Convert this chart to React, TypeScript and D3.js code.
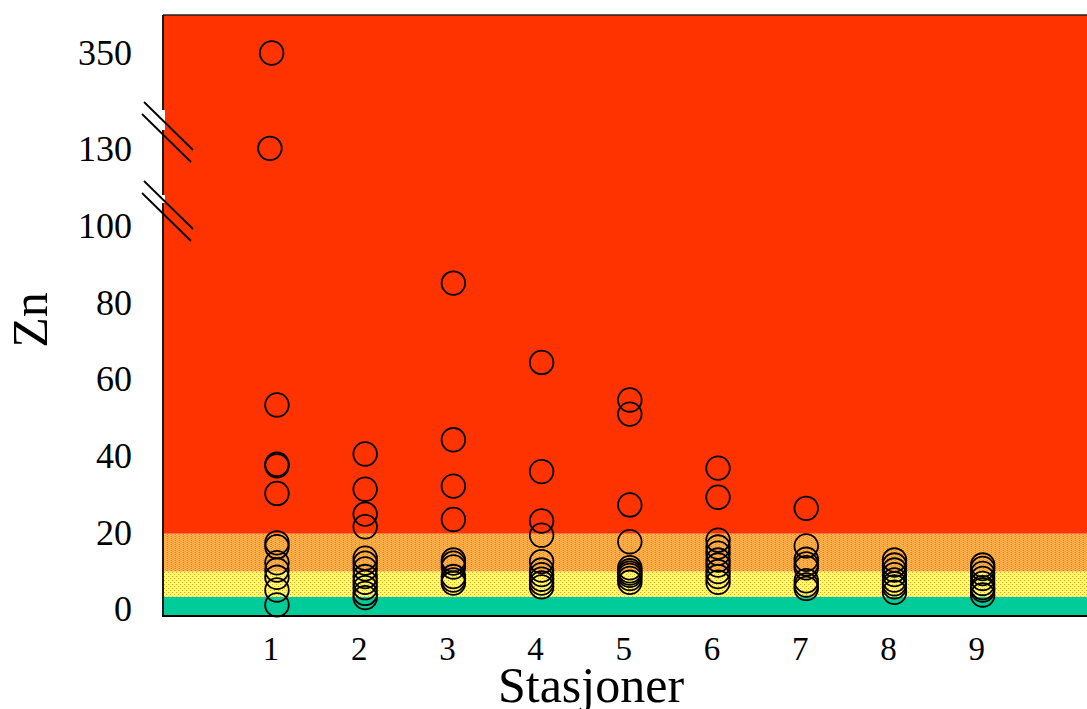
import React from "react";
import * as d3 from "d3";

// Zn concentrations per sampling station
const stations = [1, 2, 3, 4, 5, 6, 7, 8, 9];
const znStation1 = [350, 130, 53.3, 37.8, 37.4, 30.2, 17.3, 16.3, 12.1, 10.2, 8.3, 5.0, 1.1];
// horizontal placement of the station 1 samples (the two highest sit slightly left)
const xStation1 = [0.94, 0.92, 1, 1, 1, 1, 1, 1, 1, 1, 1, 1, 1];
const znStation2 = [40.5, 31.3, 24.8, 21.5, 13.3, 12.0, 10.5, 8.5, 7.0, 5.6, 4.1, 3.0];
const znStation3 = [85.1, 44.2, 32.1, 23.4, 12.8, 12.0, 11.0, 8.5, 7.6, 6.8];
const znStation4 = [64.4, 35.9, 23.0, 19.3, 12.4, 10.2, 9.0, 7.8, 6.8, 5.8];
const znStation5 = [54.6, 50.9, 27.2, 17.6, 10.8, 10.0, 9.4, 8.8, 8.0, 7.0];
const znStation6 = [36.8, 29.2, 18.0, 16.2, 14.6, 12.8, 11.5, 9.8, 8.5, 7.0];
const znStation7 = [26.3, 16.5, 13.0, 11.8, 10.8, 7.4, 6.3, 5.4];
const znStation8 = [12.8, 11.5, 10.2, 9.0, 7.6, 6.6, 5.8, 4.4];
const znStation9 = [11.5, 10.6, 9.3, 8.0, 6.7, 5.6, 5.0, 3.7];
const znByStation = [
  znStation1, znStation2, znStation3, znStation4, znStation5,
  znStation6, znStation7, znStation8, znStation9,
];

// y tick labels (axis is broken above 100 and above 130)
const yTicks = [0, 20, 40, 60, 80, 100, 130, 350];

// class limits for the coloured background bands
const bandLimits = [3.2, 9.8, 19.7];

const W = 1087;
const H = 709;
const left = 163;
const right = 1100;
const top = 15;
const bottom = 616;

const x = d3.scaleLinear().domain([-0.292, 10.33]).range([left, right]);
// piecewise scale: 0-100 linear, a short segment around 130, and one around 350
const y = d3
  .scaleLinear()
  .domain([-1.8, 104, 116, 135.5, 320, 370])
  .range([bottom, 210.7, 195, 130, 110, top]);

// pixel positions of the two axis breaks
const breaks = [
  { gapTop: 110, gapBottom: 130, mark: 121 },
  { gapTop: 195, gapBottom: 203, mark: 200 },
];

const serif = "'Liberation Serif', 'Times New Roman', serif";

export default function App() {
  const points = stations.flatMap((s, i) =>
    znByStation[i].map((v, j) => ({ s: i === 0 ? xStation1[j] : s, v }))
  );

  const bands = [
    { from: -1.8, to: bandLimits[0], fill: "#00CC99" },
    { from: bandLimits[0], to: bandLimits[1], fill: "url(#yellowDots)" },
    { from: bandLimits[1], to: bandLimits[2], fill: "url(#orangeWeave)" },
    { from: bandLimits[2], to: 370, fill: "#FF3300" },
  ];

  const axisSegments = [
    [top, breaks[0].gapTop],
    [breaks[0].gapBottom, breaks[1].gapTop],
    [breaks[1].gapBottom, bottom],
  ];

  return (
    <svg
      width={W}
      height={H}
      style={{ position: "absolute", left: 0, top: 0, background: "#fff" }}
      fontFamily={serif}
    >
      <defs>
        <pattern id="yellowDots" width={4} height={4} patternUnits="userSpaceOnUse">
          <rect width={4} height={4} fill="#FFFF66" />
          <rect x={0} y={0} width={1} height={1} fill="#FF9933" />
          <rect x={2} y={2} width={1} height={1} fill="#FF9933" />
        </pattern>
        <pattern id="orangeWeave" width={4} height={2} patternUnits="userSpaceOnUse">
          <rect width={4} height={2} fill="#FF9933" />
          <rect x={0} y={0} width={2} height={1} fill="#FFBB55" />
          <rect x={2} y={1} width={2} height={1} fill="#FFBB55" />
          <rect x={3} y={0} width={1} height={1} fill="#EE7722" />
        </pattern>
      </defs>

      {/* background bands */}
      {bands.map((b, i) => (
        <rect
          key={i}
          x={left + 1}
          width={right - left}
          y={y(b.to)}
          height={y(b.from) - y(b.to)}
          fill={b.fill}
        />
      ))}

      {/* frame: top and bottom edges */}
      <line x1={left} x2={right} y1={top} y2={top} stroke="#222" strokeWidth={1.5} />
      <line x1={left - 1} x2={right} y1={bottom} y2={bottom} stroke="#000" strokeWidth={2} />

      {/* left axis with gaps at the breaks */}
      {axisSegments.map(([a, b], i) => (
        <line key={i} x1={left} x2={left} y1={a} y2={b} stroke="#000" strokeWidth={1.8} />
      ))}
      {breaks.map((b, i) => (
        <rect key={i} x={left - 1} y={b.gapTop} width={3} height={b.gapBottom - b.gapTop} fill="#fff" />
      ))}
      {breaks.map((b, i) => (
        <g key={i} stroke="#000" strokeWidth={1.8}>
          <line x1={left - 19} y1={b.mark - 19} x2={left + 30} y2={b.mark + 29} />
          <line x1={left - 21} y1={b.mark - 7} x2={left + 28} y2={b.mark + 41} />
        </g>
      ))}

      {/* data points */}
      {points.map((p, i) => (
        <circle
          key={i}
          cx={x(p.s)}
          cy={y(p.v)}
          r={11.8}
          fill="none"
          stroke="#000"
          strokeWidth={1.8}
        />
      ))}

      {/* y tick labels */}
      {yTicks.map((t) => (
        <text
          key={t}
          x={132}
          y={y(t)}
          dy="0.34em"
          textAnchor="end"
          fontSize={36}
          fill="#000"
        >
          {t}
        </text>
      ))}

      {/* x tick labels */}
      {stations.map((s) => (
        <text key={s} x={x(s) - 6} y={660} textAnchor="middle" fontSize={33} fill="#000">
          {s}
        </text>
      ))}

      {/* axis titles */}
      <text x={591} y={702} textAnchor="middle" fontSize={50} fill="#000">
        Stasjoner
      </text>
      <text
        transform="translate(47,320) rotate(-90)"
        textAnchor="middle"
        fontSize={50}
        fill="#000"
      >
        Zn
      </text>
    </svg>
  );
}
